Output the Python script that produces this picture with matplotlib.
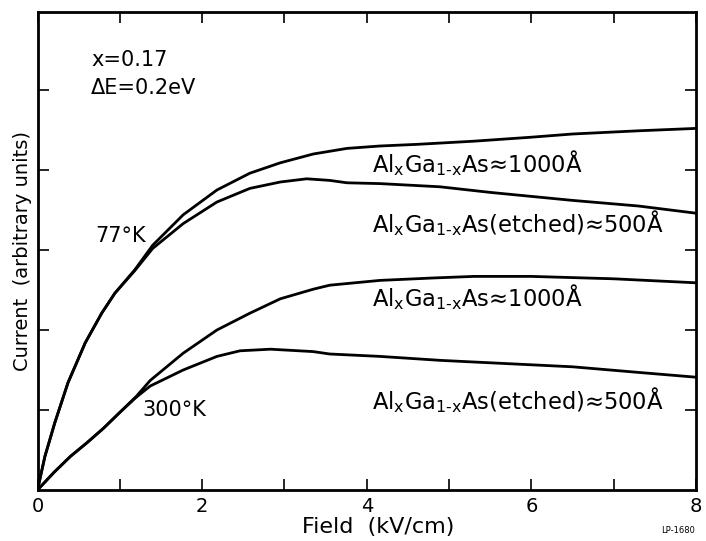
import numpy as np
import matplotlib
matplotlib.use("Agg")
import matplotlib.pyplot as plt
from matplotlib.ticker import MultipleLocator

# values (field in kV/cm, current in arbitrary units)
field_77_thick = [0, 0.09, 0.21, 0.37, 0.58, 0.78, 0.94, 1.18, 1.40, 1.77, 2.18, 2.58,
                  2.95, 3.35, 3.76, 4.16, 4.6, 5.3, 6.0, 6.5, 7.3, 8.0]
cur_77_thick = [0, 0.42, 0.84, 1.34, 1.84, 2.21, 2.46, 2.75, 3.06, 3.44, 3.75, 3.96,
                4.09, 4.20, 4.27, 4.30, 4.32, 4.36, 4.41, 4.45, 4.49, 4.52]

field_77_etch = [0, 0.09, 0.21, 0.37, 0.58, 0.78, 0.94, 1.18, 1.40, 1.77, 2.18, 2.58,
                 2.95, 3.27, 3.55, 3.76, 4.16, 4.89, 5.5, 6.5, 7.3, 8.0]
cur_77_etch = [0, 0.42, 0.84, 1.34, 1.84, 2.21, 2.46, 2.74, 3.02, 3.33, 3.60, 3.77,
               3.85, 3.89, 3.87, 3.84, 3.83, 3.79, 3.72, 3.62, 3.55, 3.46]

field_300_thick = [0, 0.2, 0.4, 0.6, 0.8, 1.0, 1.2, 1.37, 1.77, 2.18, 2.58, 2.95,
                   3.35, 3.55, 4.16, 4.8, 5.3, 6.0, 7.0, 8.0]
cur_300_thick = [0, 0.22, 0.42, 0.59, 0.77, 0.97, 1.17, 1.37, 1.71, 2.00, 2.21, 2.39,
                 2.51, 2.56, 2.62, 2.65, 2.67, 2.67, 2.64, 2.59]

field_300_etch = [0, 0.2, 0.4, 0.6, 0.8, 1.0, 1.2, 1.37, 1.77, 2.18, 2.46, 2.83,
                  3.35, 3.55, 4.16, 4.9, 5.7, 6.5, 7.3, 8.0]
cur_300_etch = [0, 0.22, 0.42, 0.59, 0.77, 0.97, 1.16, 1.30, 1.50, 1.67, 1.74, 1.76,
                1.73, 1.70, 1.67, 1.62, 1.58, 1.54, 1.47, 1.41]

label_thick = "Al$_\\mathregular{x}$Ga$_\\mathregular{1\u2010x}$As\u22481000\u00c5"
label_etch = "Al$_\\mathregular{x}$Ga$_\\mathregular{1\u2010x}$As(etched)\u2248500\u00c5"

plt.rcParams["font.family"] = "DejaVu Sans"

fig = plt.figure(figsize=(7.06, 5.41), dpi=100)
ax = fig.add_axes([37.5 / 706, 51 / 541, 658.5 / 706, 478 / 541])

lw = 2.0
for xs, ys in [(field_77_thick, cur_77_thick), (field_77_etch, cur_77_etch),
               (field_300_thick, cur_300_thick), (field_300_etch, cur_300_etch)]:
    ax.plot(xs, ys, color="black", lw=lw, solid_capstyle="round", solid_joinstyle="round")

ax.set_xlim(0, 8)
ax.set_ylim(0, 5.975)
ax.xaxis.set_minor_locator(MultipleLocator(1))
ax.set_xticks([0, 2, 4, 6, 8])
ax.set_yticks([1, 2, 3, 4, 5])
ax.set_yticklabels([])
ax.tick_params(which="both", direction="in", top=True, right=True,
               length=8, width=1.2, labelsize=14, pad=5)
for s in ax.spines.values():
    s.set_linewidth(2.0)

ax.set_xlabel("Field  (kV/cm)", fontsize=16, va="top")
ax.xaxis.set_label_coords(0.517, -0.056)
ax.set_ylabel("Current  (arbitrary units)", fontsize=14, labelpad=0)
ax.yaxis.set_label_coords(-0.009, 0.499)

ax.text(0.65, 5.3, "x=0.17", fontsize=15, va="baseline")
ax.text(0.65, 4.95, "\u0394E=0.2eV", fontsize=15, va="baseline")
ax.text(0.7, 3.1, "77\u00b0K", fontsize=15, va="baseline")
ax.text(1.28, 0.93, "300\u00b0K", fontsize=15, va="baseline")

ax.text(4.06, 3.97, label_thick, fontsize=16.3, va="baseline")
ax.text(4.06, 3.22, label_etch, fontsize=16.3, va="baseline")
ax.text(4.06, 2.30, label_thick, fontsize=16.3, va="baseline")
ax.text(4.06, 1.01, label_etch, fontsize=16.3, va="baseline")

fig.text(0.985, 0.012, "LP-1680", fontsize=6, ha="right", va="bottom")

fig.savefig("out.png", dpi=100)
